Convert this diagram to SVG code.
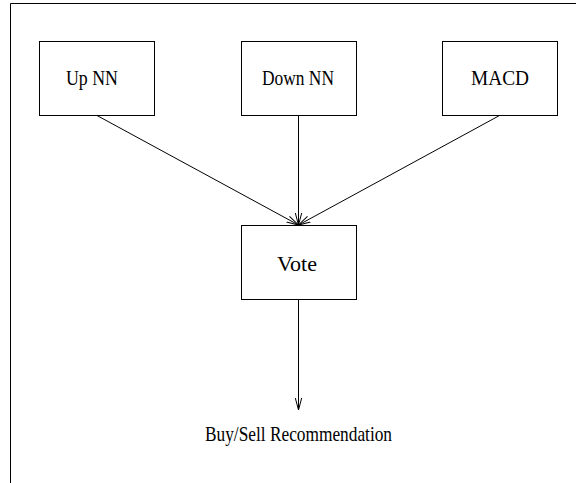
<svg xmlns="http://www.w3.org/2000/svg" width="576" height="483" viewBox="0 0 576 483">
<style>
.box{fill:#fff;stroke:#000;stroke-width:1}
.lbl{font-family:"Liberation Serif","Times New Roman",serif;font-size:22px;fill:#000}
.edge{stroke:#000;stroke-width:1;fill:none}
</style>
<defs>
<marker id="arr" viewBox="0 0 12 8" refX="12" refY="4" markerWidth="12" markerHeight="8" markerUnits="userSpaceOnUse" orient="auto">
<path d="M0,0.8 L12,4 L0,7.2" fill="none" stroke="#000" stroke-width="1"/>
</marker>
</defs>
<rect width="576" height="483" fill="#fff"/>
<path d="M576,3.5 H10.5 V483" fill="none" stroke="#000" stroke-width="1"/>
<g id="upnn"><rect class="box" x="39.5" y="41.5" width="115" height="74"/><text class="lbl" x="66" y="85" textLength="52" lengthAdjust="spacingAndGlyphs">Up NN</text></g>
<g id="downnn"><rect class="box" x="241.5" y="41.5" width="115" height="74"/><text class="lbl" x="262" y="85" textLength="72" lengthAdjust="spacingAndGlyphs">Down NN</text></g>
<g id="macd"><rect class="box" x="442.5" y="41.5" width="115" height="74"/><text class="lbl" x="471" y="85" textLength="58" lengthAdjust="spacingAndGlyphs">MACD</text></g>
<g id="vote"><rect class="box" x="241.5" y="225.5" width="115" height="74"/><text class="lbl" x="277" y="271" textLength="40" lengthAdjust="spacingAndGlyphs">Vote</text></g>
<g id="output"><text class="lbl" x="205" y="441" textLength="187" lengthAdjust="spacingAndGlyphs">Buy/Sell Recommendation</text></g>
<g id="connectors">
<line class="edge" x1="97" y1="115.5" x2="298.5" y2="225" marker-end="url(#arr)"/>
<line class="edge" x1="298.5" y1="115.5" x2="298.5" y2="225" marker-end="url(#arr)"/>
<line class="edge" x1="499.5" y1="115.5" x2="298.5" y2="225" marker-end="url(#arr)"/>
<line class="edge" x1="298.5" y1="299.5" x2="298.5" y2="410" marker-end="url(#arr)"/>
</g>
</svg>
